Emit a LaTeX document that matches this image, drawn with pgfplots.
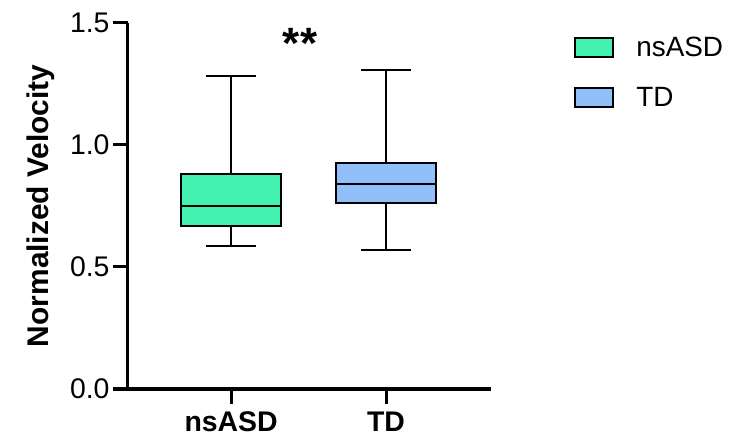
\documentclass[border=0pt]{standalone}
\usepackage{pgfplots}
\pgfplotsset{compat=1.18}
\usepgfplotslibrary{statistics}
\usepackage{fontspec}
\setmainfont{Liberation Sans}
\definecolor{gA}{HTML}{43F2B1}
\definecolor{bB}{HTML}{90BFF9}
\begin{document}
\begin{tikzpicture}
\useasboundingbox (-128bp,-49bp) rectangle (624bp,389bp);
\begin{axis}[
  at={(0,0)}, anchor=south west,
  scale only axis, width=363bp, height=366.3bp,
  xmin=-0.665, xmax=1.677, ymin=0, ymax=1.5,
  axis lines=left, axis line style={line width=3bp, -},
  xtick={0,1}, xticklabels={nsASD,TD},
  ytick={0,0.5,1.0,1.5},
  major tick style={line width=3bp, black},
  tick align=outside, major tick length=15bp,
  yticklabel style={/pgf/number format/fixed, /pgf/number format/fixed zerofill, /pgf/number format/precision=1},
  /pgf/number format/assume math mode=true,
  tick label style={font=\fontsize{28.5}{32}\selectfont},
  xticklabel style={font=\fontsize{28.5}{32}\selectfont\bfseries, yshift=-4bp},
  ylabel={Normalized Velocity},
  ylabel style={font=\fontsize{30}{34}\selectfont\bfseries, at={(axis description cs:-0.24,0.5)}, anchor=center, rotate=0},
  clip=false,
  boxplot/draw direction=y,
  legend style={draw=none, fill=none, at={(1.229,0.9665)}, anchor=north west, font=\fontsize{28}{32}\selectfont, row sep=25bp, inner sep=0pt},
  legend cell align=left,
  legend image code/.code={\draw[#1, line width=2bp] (0bp,-9.5bp) rectangle (38bp,9.5bp);},
  /tikz/every odd column/.append style={column sep=20bp},
]
\addlegendimage{fill=gA, draw=black}
\addlegendentry{nsASD}
\addlegendimage{fill=bB, draw=black}
\addlegendentry{TD}
\addplot[forget plot, fill=gA, draw=black, line width=2bp,
  boxplot prepared={median=0.749, upper quartile=0.882, lower quartile=0.669,
  upper whisker=1.28, lower whisker=0.587, draw position=0,
  box extend=0.65, whisker extend=0.325}] coordinates {};
\addplot[forget plot, fill=bB, draw=black, line width=2bp,
  boxplot prepared={median=0.841, upper quartile=0.925, lower quartile=0.763,
  upper whisker=1.306, lower whisker=0.570, draw position=1,
  box extend=0.65, whisker extend=0.325}] coordinates {};
\node[font=\fontsize{44}{48}\selectfont\bfseries] at (axis cs:0.445,1.415) {**};
\end{axis}
\end{tikzpicture}
\end{document}
